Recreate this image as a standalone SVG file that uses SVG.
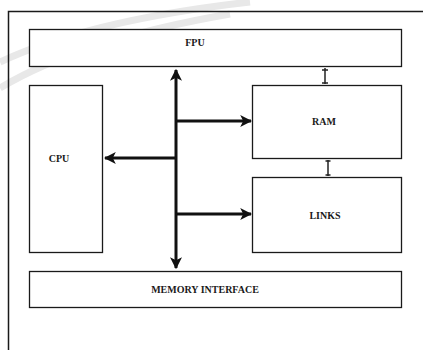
<svg xmlns="http://www.w3.org/2000/svg" width="423" height="350" viewBox="0 0 423 350">
<style>
.box{fill:#fff;stroke:#1a1a1a;stroke-width:1.3}
.lbl{font-family:"Liberation Serif",serif;font-weight:bold;font-size:10px;fill:#1a1a1a;text-anchor:middle;dominant-baseline:central}
.bus{stroke:#111;stroke-width:3;fill:none}
.thin{stroke:#222;stroke-width:1.5;fill:none}
</style>
<defs>
<marker id="ah" viewBox="0 0 10 10" refX="9" refY="5" markerWidth="4" markerHeight="4" markerUnits="strokeWidth" orient="auto">
<path d="M0,0 L10,5 L0,10 L2.5,5 Z" fill="#111"/>
</marker>
</defs>
<rect width="423" height="350" fill="#fff"/>
<g id="watermark" fill="none" stroke="#e8e8e8" stroke-width="7">
<path d="M0,62 Q90,20 250,2"/>
<path d="M0,88 Q80,40 230,14"/>
</g>
<g id="frame">
<path d="M8.5,350 L8.5,11.5 L423,11.5" fill="none" stroke="#1a1a1a" stroke-width="1.5"/>
</g>
<g id="fpu"><rect class="box" x="29.5" y="29.5" width="372" height="37"/><text class="lbl" x="195" y="42">FPU</text></g>
<g id="cpu"><rect class="box" x="29.5" y="85.5" width="73" height="167"/><text class="lbl" x="59" y="158">CPU</text></g>
<g id="ram"><rect class="box" x="252.5" y="85.5" width="149" height="73"/><text class="lbl" x="324" y="121">RAM</text></g>
<g id="links"><rect class="box" x="252.5" y="177.5" width="149" height="75"/><text class="lbl" x="325" y="215">LINKS</text></g>
<g id="memory-interface"><rect class="box" x="29.5" y="271.5" width="372" height="36"/><text class="lbl" x="205" y="289">MEMORY INTERFACE</text></g>
<g id="connectors">
<line class="bus" x1="176" y1="158" x2="176" y2="70" marker-end="url(#ah)"/>
<line class="bus" x1="176" y1="158" x2="176" y2="268" marker-end="url(#ah)"/>
<line class="bus" x1="176" y1="121" x2="251" y2="121" marker-end="url(#ah)"/>
<line class="bus" x1="176" y1="214" x2="251" y2="214" marker-end="url(#ah)"/>
<line class="bus" x1="176" y1="158" x2="105" y2="158" marker-end="url(#ah)"/>
<line class="thin" x1="325" y1="68" x2="325" y2="84"/>
<line class="thin" x1="322" y1="70" x2="328" y2="70"/>
<line class="thin" x1="322" y1="83" x2="328" y2="83"/>
<line class="thin" x1="328" y1="160" x2="328" y2="176"/>
<line class="thin" x1="325.5" y1="161" x2="330.5" y2="161"/>
<line class="thin" x1="325.5" y1="175" x2="330.5" y2="175"/>
</g>
</svg>
